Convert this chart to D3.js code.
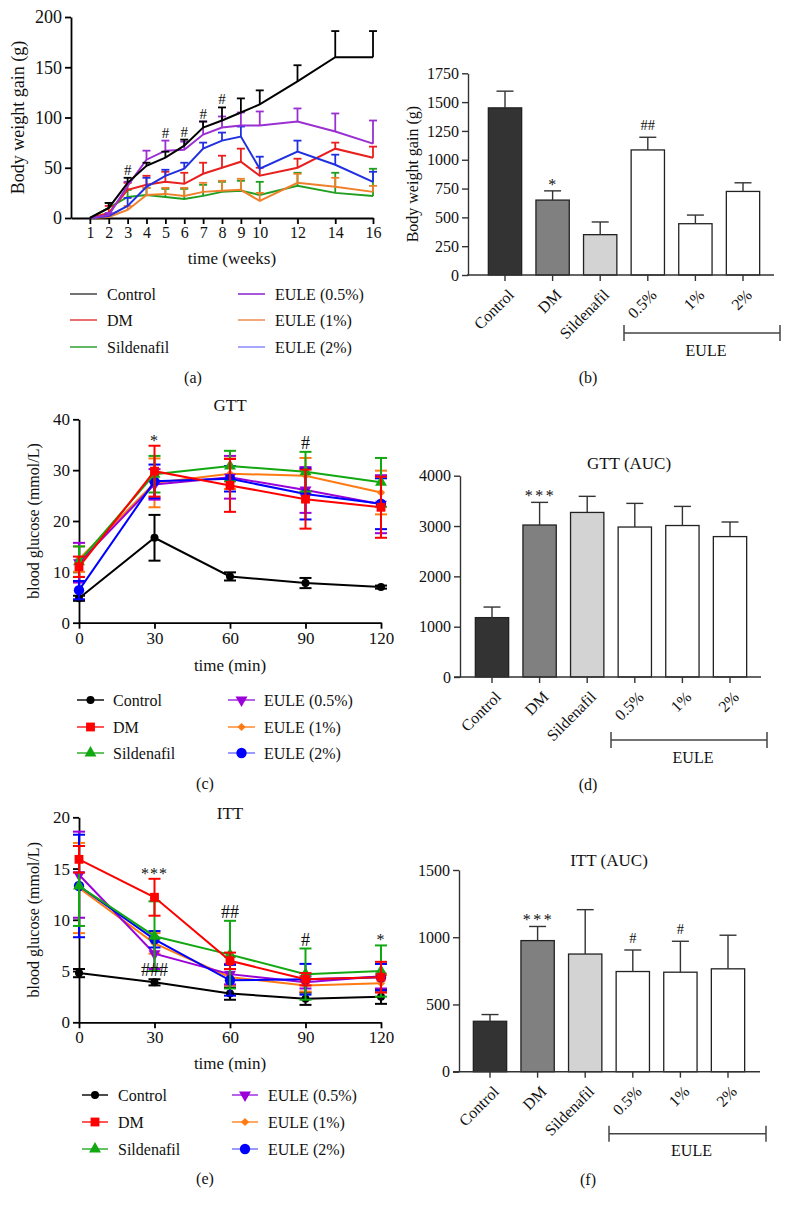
<!DOCTYPE html>
<html><head><meta charset="utf-8">
<script src="https://cdn.jsdelivr.net/npm/d3@7"></script>
<style>
body{margin:0;background:#fff}
svg{display:block}
svg text{font-family:"Liberation Serif","Times New Roman",serif !important;fill:#111}
</style>
</head><body>
<svg id="fig" width="791" height="1211" font-family="Liberation Serif"></svg>
<script>
// ---------------- DATA ----------------
const groups = ["Control","DM","Sildenafil","EULE (0.5%)","EULE (1%)","EULE (2%)"];

// (a) body weight gain over weeks (mean, SEM) – rows follow `groups`
const weeks = [1,2,3,4,5,6,7,8,9,10,12,14,16];
const weekTicks = [1,2,3,4,5,6,7,8,9,10,12,14,16];
const bwTicks = [0,50,100,150,200];
const bwMean = [
  [0,10,35,52,60,72,90,97,105,113,136,160,160],
  [0,5,28,33,36,34,44,50,56,42,50,69,60],
  [0,10,21,23,21,19,22,26,27,23,32,25,22],
  [0,3,32,58,67,68,83,90,92,92,96,86,74],
  [0,1,8,23,24,22,26,27,28,17,35,31,26],
  [0,2,12,31,42,49,69,77,81,49,66,53,36]
];
const bwErr = [
  [0,5,5,3,6,6,6,13,14,14,16,26,26],
  [0,7,7,9,10,11,11,12,13,8,9,6,11],
  [0,5,7,7,8,10,11,10,10,13,13,20,27],
  [0,2,4,9,10,8,13,11,13,14,13,18,23],
  [0,2,4,7,6,8,9,10,11,8,9,9,6],
  [0,2,8,9,6,6,6,8,10,12,11,10,10]
];
const bwMarkWeeks = [3,5,6,7,8];
const bwMarkLabels = ["#","#","#","#","#"];

// (c) GTT and (e) ITT
const minutes = [0,30,60,90,120];
const gttTicks = [0,10,20,30,40];
const gttMean = [
  [4.8,16.7,9.1,7.8,7.0],
  [11.0,29.8,27.0,24.3,22.7],
  [12.0,29.2,30.8,29.7,27.6],
  [11.8,27.2,28.6,26.1,23.3],
  [12.5,27.5,29.3,28.9,25.6],
  [6.4,27.8,28.3,25.3,23.4]
];
const gttErr = [
  [0.5,4.5,0.8,1.0,0.3],
  [2.0,5.0,5.2,5.8,6.0],
  [3.0,3.6,3.0,3.9,4.8],
  [3.9,3.0,4.2,4.5,5.7],
  [2.5,4.8,3.0,3.5,4.3],
  [1.8,3.3,2.5,5.0,5.0]
];
const gttMarkMin = [30,90];
const gttMarkLabels = ["*","#"];

const ittTicks = [0,5,10,15,20];
const ittMean = [
  [4.8,3.9,2.8,2.3,2.5],
  [15.9,12.2,6.0,4.2,4.4],
  [13.3,8.4,6.6,4.7,5.0],
  [14.4,6.7,4.7,3.9,4.5],
  [13.1,7.7,4.4,3.6,3.8],
  [13.3,8.1,4.1,4.2,4.4]
];
const ittErr = [
  [0.4,0.3,0.6,0.6,0.7],
  [1.3,1.8,0.8,0.6,1.5],
  [3.9,3.4,3.3,2.5,2.5],
  [4.2,1.5,1.0,0.6,1.2],
  [4.4,1.0,0.8,0.6,0.8],
  [5.0,0.8,1.5,1.5,1.3]
];
const ittMarkMin = [30,60,90,120];
const ittMarkLabels = ["***","##","#","*"];
const ittControlMarkMin = [30];
const ittControlMarkLabels = ["###"];

// bar panels (b), (d), (f)
const barCats = ["Control","DM","Sildenafil","0.5%","1%","2%"];
const bwTotal = [1450,650,350,1085,445,725];
const bwTotalErr = [145,80,110,110,75,75];
const bwTotalMarks = ["","*","","##","",""];
const bwTotalTicks = [0,250,500,750,1000,1250,1500,1750];

const gttAuc = [1180,3020,3270,2980,3010,2790];
const gttAucErr = [210,450,320,470,380,290];
const gttAucMarks = ["","***","","","",""];
const gttAucTicks = [0,1000,2000,3000,4000];

const ittAuc = [375,975,875,745,740,765];
const ittAucErr = [50,105,330,160,230,250];
const ittAucMarks = ["","***","","#","#",""];
const ittAucTicks = [0,500,1000,1500];

// ---------------- STYLE ----------------
const colA = ["#000000","#e8201e","#1f9e1f","#9a2fd2","#f07f2c","#2030e0"];
const legColA = ["#444444","#e04040","#30a030","#8a20d0","#ee8a50","#8a8aff"];
const colC = ["#000000","#ff0000","#12a812","#9b00d8","#ff7b12","#0000ff"];
const legColC = ["#111111","#ff2020","#30b030","#a030e0","#ff8a30","#7a7aff"];
const symC = ["circle","square","triangle","triangleDown","diamond","bigCircle"];
const barFill = ["#333333","#808080","#d3d3d3","#ffffff","#ffffff","#ffffff"];

const svg = d3.select("#fig");
const fmt = d3.format("d");

function sym(g, type, cx, cy, color){
  let s;
  switch(type){
    case "circle": s = g.append("circle").attr("r",4); break;
    case "bigCircle": s = g.append("circle").attr("r",5.2); break;
    case "square": s = g.append("path").attr("d", d3.symbol(d3.symbolSquare, 78)()); break;
    case "triangle": s = g.append("path").attr("d", d3.symbol(d3.symbolTriangle, 62)()); break;
    case "triangleDown": s = g.append("path").attr("d", d3.symbol(d3.symbolTriangle, 62)()); break;
    case "diamond": s = g.append("path").attr("d", d3.symbol(d3.symbolSquare, 34)()); break;
  }
  s.attr("fill", color);
  if (type === "circle" || type === "bigCircle") s.attr("cx",cx).attr("cy",cy);
  else {
    const rot = type === "triangleDown" ? 180 : (type === "diamond" ? 45 : 0);
    s.attr("transform", `translate(${cx},${cy}) rotate(${rot})`);
  }
}

function styleAxis(sel, fs, sw, col){
  sel.attr("font-family", "Liberation Serif");
  sel.select(".domain").attr("stroke", col).attr("stroke-width", sw);
  sel.selectAll(".tick line").attr("stroke", col).attr("stroke-width", sw);
  sel.selectAll(".tick text").attr("font-size", fs).attr("fill","#111");
}

function lineChart(o){
  const g = svg.append("g");
  const x = d3.scaleLinear().domain(o.xDomain).range(o.xRange);
  const y = d3.scaleLinear().domain(o.yDomain).range(o.yRange);
  const xa = g.append("g").attr("transform",`translate(0,${o.yRange[0]})`)
    .call(d3.axisBottom(x).tickValues(o.xTicks).tickFormat(fmt).tickSize(6).tickSizeOuter(0).tickPadding(3));
  styleAxis(xa, o.fsx, 1.8, "#000");
  const ya = g.append("g").attr("transform",`translate(${o.xRange[0]},0)`)
    .call(d3.axisLeft(y).tickValues(o.yTicks).tickFormat(fmt).tickSize(6).tickSizeOuter(0).tickPadding(3));
  styleAxis(ya, o.fsy, 1.8, "#000");

  o.order.forEach(i => {
    const pts = o.xs.map((t,k) => ({t, m:o.mean[i][k], e:o.err[i][k]}));
    const sg = g.append("g");
    sg.append("path").datum(pts)
      .attr("d", d3.line().x(d=>x(d.t)).y(d=>y(d.m)))
      .attr("fill","none").attr("stroke", o.colors[i]).attr("stroke-width", o.lw);
    pts.filter(d => d.e > 0).forEach(d => {
      const cx = x(d.t), top = y(d.m + d.e), bot = o.both ? y(d.m - d.e) : y(d.m);
      sg.append("line").attr("x1",cx).attr("x2",cx).attr("y1",top).attr("y2",bot)
        .attr("stroke",o.colors[i]).attr("stroke-width",o.ew);
      sg.append("line").attr("x1",cx-o.cap).attr("x2",cx+o.cap).attr("y1",top).attr("y2",top)
        .attr("stroke",o.colors[i]).attr("stroke-width",o.ew);
      if (o.both) sg.append("line").attr("x1",cx-o.cap).attr("x2",cx+o.cap).attr("y1",bot).attr("y2",bot)
        .attr("stroke",o.colors[i]).attr("stroke-width",o.ew);
    });
    if (o.symbols) pts.forEach(d => sym(sg, o.symbols[i], x(d.t), y(d.m), o.colors[i]));
  });

  // significance marks above the highest error bar at that x
  (o.marks || []).forEach(mk => {
    mk.xs.forEach((t,j) => {
      const k = o.xs.indexOf(t);
      const rows = mk.rows || d3.range(o.mean.length);
      const topVal = d3.max(rows, r => o.mean[r][k] + o.err[r][k]);
      const lab = mk.labels[j];
      const star = lab.startsWith("*");
      g.append("text").attr("x", x(t)).attr("y", y(topVal) - (star ? 0 : 3))
        .attr("text-anchor","middle").attr("font-size", star ? o.starFs : o.hashFs)
        .attr("letter-spacing", star ? 1 : 0).text(lab);
    });
  });

  // titles
  g.append("text").attr("transform",`translate(${o.yLabelX},${(o.yRange[0]+o.yRange[1])/2}) rotate(-90)`)
    .attr("text-anchor","middle").attr("dy","0.35em").attr("font-size",o.yLabelFs).text(o.yLabel);
  g.append("text").attr("x",o.xLabelPos[0]).attr("y",o.xLabelPos[1]).attr("dy","0.35em")
    .attr("text-anchor","middle").attr("font-size",17).text(o.xLabel);
  if (o.title) g.append("text").attr("x",o.titlePos[0]).attr("y",o.titlePos[1]).attr("dy","0.35em")
    .attr("text-anchor","middle").attr("font-size",17).text(o.title);

  // legend
  const L = o.legend;
  groups.forEach((name,i) => {
    const col = Math.floor(i/3), row = i%3;
    const lx = L.cols[col], ly = L.rows[row];
    g.append("line").attr("x1",lx).attr("x2",lx+L.len).attr("y1",ly).attr("y2",ly)
      .attr("stroke", L.colors[i]).attr("stroke-width",1.5);
    if (o.symbols) sym(g, o.symbols[i], lx + L.len/2, ly, o.colors[i]);
    g.append("text").attr("x",lx+L.len+L.gap).attr("y",ly).attr("dy","0.35em")
      .attr("font-size",16).text(name);
  });
  g.append("text").attr("x",o.letterPos[0]).attr("y",o.letterPos[1]).attr("dy","0.35em")
    .attr("text-anchor","middle").attr("font-size",16).text(o.letter);
}

function barChart(o){
  const g = svg.append("g");
  const x = d3.scaleBand().domain(barCats).range(o.xRange).paddingInner(0.3).paddingOuter(0.15);
  const y = d3.scaleLinear().domain([0, d3.max(o.yTicks)]).range(o.yRange);
  const y0 = y(0);
  const ya = g.append("g").attr("transform",`translate(${o.yAxisX},0)`)
    .call(d3.axisLeft(y).tickValues(o.yTicks).tickFormat(fmt).tickSize(6).tickSizeOuter(0).tickPadding(3));
  styleAxis(ya, 16, 1.4, "#333");
  // bars
  barCats.forEach((c,i) => {
    const cx = x(c) + x.bandwidth()/2;
    g.append("rect").attr("x",x(c)).attr("width",x.bandwidth())
      .attr("y",y(o.values[i])).attr("height",y0 - y(o.values[i]))
      .attr("fill",barFill[i]).attr("stroke","#222").attr("stroke-width",1.3);
    const top = y(o.values[i] + o.errs[i]);
    g.append("line").attr("x1",cx).attr("x2",cx).attr("y1",y(o.values[i])).attr("y2",top)
      .attr("stroke","#333").attr("stroke-width",1.4);
    g.append("line").attr("x1",cx-8.5).attr("x2",cx+8.5).attr("y1",top).attr("y2",top)
      .attr("stroke","#333").attr("stroke-width",1.4);
    const mk = o.marks[i];
    if (mk) {
      const star = mk.startsWith("*");
      g.append("text").attr("x",cx + (star ? 1 : 0)).attr("y", top - (star ? 1 : 7))
        .attr("text-anchor","middle").attr("font-size", star ? 16 : 14.5)
        .attr("letter-spacing", star ? 2.5 : 0).text(mk);
    }
  });
  // x axis line + ticks
  g.append("line").attr("x1",o.xLine[0]).attr("x2",o.xLine[1]).attr("y1",y0).attr("y2",y0)
    .attr("stroke","#333").attr("stroke-width",1.4);
  const xa = g.append("g").attr("transform",`translate(0,${y0})`)
    .call(d3.axisBottom(x).tickSize(6).tickSizeOuter(0).tickFormat(""));
  xa.select(".domain").remove();
  xa.selectAll(".tick line").attr("stroke","#333").attr("stroke-width",1.4);
  barCats.forEach(c => {
    const cx = x(c) + x.bandwidth()/2;
    g.append("text").attr("transform",`translate(${cx+6},${y0+17}) rotate(-45)`)
      .attr("text-anchor","end").attr("dy","0.35em").attr("font-size",16).text(c);
  });
  // EULE bracket
  const bx1 = x("0.5%") - x.step()*x.paddingInner()/2, bx2 = o.xLine[1] + 6, by = y0 + o.bracketDy;
  g.append("line").attr("x1",bx1).attr("x2",bx2).attr("y1",by).attr("y2",by).attr("stroke","#444").attr("stroke-width",1.5);
  [bx1,bx2].forEach(bx => g.append("line").attr("x1",bx).attr("x2",bx).attr("y1",by-8).attr("y2",by+8)
    .attr("stroke","#444").attr("stroke-width",1.5));
  g.append("text").attr("x",(bx1+bx2)/2 + 4).attr("y",by+17).attr("dy","0.35em")
    .attr("text-anchor","middle").attr("font-size",16).text("EULE");
  if (o.title) g.append("text").attr("x",o.titlePos[0]).attr("y",o.titlePos[1]).attr("dy","0.35em")
    .attr("text-anchor","middle").attr("font-size",17).text(o.title);
  if (o.yLabel) g.append("text").attr("transform",`translate(${o.yLabelX},${(o.yRange[0]+o.yRange[1])/2}) rotate(-90)`)
    .attr("text-anchor","middle").attr("dy","0.35em").attr("font-size",16).text(o.yLabel);
  g.append("text").attr("x",o.letterPos[0]).attr("y",o.letterPos[1]).attr("dy","0.35em")
    .attr("text-anchor","middle").attr("font-size",16).text(o.letter);
}

// ---------------- PANELS ----------------
lineChart({
  xs: weeks, mean: bwMean, err: bwErr, both: false, colors: colA, order: [2,4,1,5,3,0],
  xDomain: [0,16], xRange: [71,373], yDomain: [0,200], yRange: [218,17],
  xTicks: weekTicks, yTicks: bwTicks, fsx: 16, fsy: 18, lw: 2, ew: 1.8, cap: 4,
  hashFs: 15, starFs: 15,
  marks: [{xs: bwMarkWeeks, labels: bwMarkLabels}],
  yLabel: "Body weight gain (g)", yLabelX: 18, yLabelFs: 18, xLabel: "time (weeks)", xLabelPos: [232,258],
  legend: {cols: [70,238], rows: [294,320,347], len: 27, gap: 10, colors: legColA},
  letter: "(a)", letterPos: [193,377]
});

barChart({
  values: bwTotal, errs: bwTotalErr, marks: bwTotalMarks, yTicks: bwTotalTicks,
  xRange: [481.2,766.8], yRange: [275,73.3], yAxisX: 468, xLine: [467,774], bracketDy: 58,
  yLabel: "Body weight gain (g)", yLabelX: 412, letter: "(b)", letterPos: [588,377]
});

lineChart({
  xs: minutes, mean: gttMean, err: gttErr, both: true, colors: colC, symbols: symC, order: [0,4,3,5,2,1],
  xDomain: [0,120], xRange: [79,381], yDomain: [0,40], yRange: [622.7,419.3],
  xTicks: minutes, yTicks: gttTicks, fsx: 17, fsy: 17, lw: 2, ew: 2, cap: 6,
  hashFs: 18, starFs: 16,
  marks: [{xs: gttMarkMin, labels: gttMarkLabels}],
  yLabel: "blood glucose (mmol/L)", yLabelX: 33, yLabelFs: 16, xLabel: "time (min)", xLabelPos: [230,665],
  title: "GTT", titlePos: [230,405],
  legend: {cols: [77,228], rows: [700,727,753], len: 27, gap: 9, colors: legColC},
  letter: "(c)", letterPos: [205,783]
});

barChart({
  values: gttAuc, errs: gttAucErr, marks: gttAucMarks, yTicks: gttAucTicks,
  xRange: [468.2,753.8], yRange: [677,475.7], yAxisX: 460, xLine: [454,761], bracketDy: 63,
  title: "GTT (AUC)", titlePos: [629,463], letter: "(d)", letterPos: [588,784]
});

lineChart({
  xs: minutes, mean: ittMean, err: ittErr, both: true, colors: colC, symbols: symC, order: [0,4,3,5,2,1],
  xDomain: [0,120], xRange: [79,381], yDomain: [0,20], yRange: [1022.3,817.3],
  xTicks: minutes, yTicks: ittTicks, fsx: 17, fsy: 17, lw: 2, ew: 2, cap: 6,
  hashFs: 18, starFs: 16,
  marks: [{xs: ittMarkMin, labels: ittMarkLabels}, {xs: ittControlMarkMin, labels: ittControlMarkLabels, rows: [0]}],
  yLabel: "blood glucose (mmol/L)", yLabelX: 33, yLabelFs: 16, xLabel: "time (min)", xLabelPos: [230,1063],
  title: "ITT", titlePos: [230,813],
  legend: {cols: [82,232], rows: [1095,1122,1149], len: 26, gap: 10, colors: legColC},
  letter: "(e)", letterPos: [205,1178]
});

barChart({
  values: ittAuc, errs: ittAucErr, marks: ittAucMarks, yTicks: ittAucTicks,
  xRange: [466.2,751.8], yRange: [1071.7,870], yAxisX: 459, xLine: [453,760], bracketDy: 62,
  title: "ITT (AUC)", titlePos: [609,860], letter: "(f)", letterPos: [588,1179]
});
</script>
</body></html>
